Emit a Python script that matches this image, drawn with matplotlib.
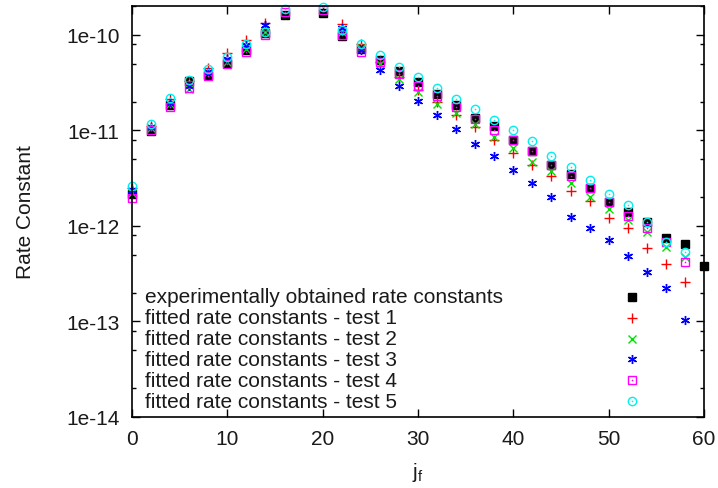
import numpy as np
import matplotlib
matplotlib.use("Agg")
import matplotlib.pyplot as plt
from matplotlib.ticker import FixedLocator, FixedFormatter, LogLocator, NullFormatter

plt.rcParams['font.family'] = ['Liberation Sans', 'DejaVu Sans']
plt.rcParams['mathtext.fontset'] = 'custom'
plt.rcParams['mathtext.rm'] = 'Liberation Sans'
plt.rcParams['mathtext.it'] = 'Liberation Sans:italic'

nan = np.nan

# final rotational state j_f (j_f = 18 lies above the plotted range)
jf_exp = [0, 2, 4, 6, 8, 10, 12, 14, 16, 20, 22, 24, 26, 28, 30, 32, 34, 36,
          38, 40, 42, 44, 46, 48, 50, 52, 54, 56, 58, 60]
jf_fit = jf_exp[:-1]

k_exp = [2.16e-12, 9.9e-12, 1.85e-11, 3.32e-11, 3.81e-11, 5.09e-11, 6.85e-11,
         1.04e-10, 1.62e-10, 1.67e-10, 9.6e-11, 7.13e-11, 5.51e-11, 4.13e-11,
         3.20e-11, 2.41e-11, 1.85e-11, 1.36e-11, 1.11e-11, 7.96e-12, 6.05e-12,
         4.38e-12, 3.50e-12, 2.48e-12, 1.78e-12, 1.41e-12, 1.11e-12, 7.43e-13,
         6.48e-13, 3.84e-13]

k_test1 = [2.50e-12, 1.11e-11, 2.11e-11, 3.27e-11, 4.48e-11, 6.37e-11, 8.71e-11,
           1.34e-10, nan, nan, 1.30e-10, 8.05e-11, 5.18e-11, 3.61e-11, 2.62e-11,
           2.00e-11, 1.43e-11, 1.08e-11, 7.96e-12, 5.81e-12, 4.35e-12, 3.36e-12,
           2.29e-12, 1.84e-12, 1.20e-12, 9.53e-13, 5.84e-13, 4.00e-13, 2.57e-13]

k_test2 = [2.22e-12, 1.06e-11, 1.89e-11, 2.72e-11, 4.07e-11, 5.21e-11, 7.13e-11,
           1.07e-10, nan, nan, 1.07e-10, 7.26e-11, 4.97e-11, 3.46e-11, 2.53e-11,
           1.89e-11, 1.51e-11, 1.17e-11, 8.49e-12, 6.52e-12, 4.71e-12, 3.71e-12,
           2.80e-12, 2.00e-12, 1.51e-12, 1.14e-12, 8.59e-13, 5.98e-13, 4.73e-13]

k_test3 = [2.38e-12, 1.09e-11, 1.93e-11, 2.90e-11, 4.10e-11, 5.61e-11, 7.73e-11,
           1.27e-10, nan, nan, 1.17e-10, 6.85e-11, 4.33e-11, 2.94e-11, 2.04e-11,
           1.43e-11, 1.04e-11, 7.22e-12, 5.37e-12, 3.86e-12, 2.80e-12, 2.00e-12,
           1.25e-12, 9.46e-13, 7.13e-13, 4.82e-13, 3.32e-13, 2.23e-13, 1.04e-13]

k_test4 = [1.96e-12, 1.02e-11, 1.77e-11, 2.79e-11, 3.66e-11, 4.97e-11, 6.68e-11,
           9.84e-11, 1.75e-10, 1.80e-10, 1.00e-10, 6.68e-11, 5.25e-11, 3.91e-11,
           2.92e-11, 2.26e-11, 1.75e-11, 1.32e-11, 1.01e-11, 7.96e-12, 6.05e-12,
           4.35e-12, 3.31e-12, 2.48e-12, 1.77e-12, 1.28e-12, 9.46e-13, 6.75e-13,
           4.23e-13]

k_test5 = [2.62e-12, 1.17e-11, 2.17e-11, 3.38e-11, 4.41e-11, 5.81e-11, 8.05e-11,
           1.07e-10, 1.87e-10, 1.93e-10, 1.11e-10, 8.05e-11, 6.07e-11, 4.59e-11,
           3.61e-11, 2.77e-11, 2.14e-11, 1.68e-11, 1.29e-11, 1.02e-11, 7.82e-12,
           5.45e-12, 4.12e-12, 3.05e-12, 2.16e-12, 1.66e-12, 1.11e-12, 6.75e-13,
           5.31e-13]

labels = ["experimentally obtained rate constants",
          "fitted rate constants - test 1",
          "fitted rate constants - test 2",
          "fitted rate constants - test 3",
          "fitted rate constants - test 4",
          "fitted rate constants - test 5"]

y_ticks = [1e-14, 1e-13, 1e-12, 1e-11, 1e-10]
y_tick_labels = ["1e-14", "1e-13", "1e-12", "1e-11", "1e-10"]
x_ticks = [0, 10, 20, 30, 40, 50, 60]

FS = 15

# point styles in the classic terminal look: filled square, +, x, *, open square, open circle
styles = [
    dict(marker='s', color='#000000', ms=5.4, mfc='#000000', mew=1.0, dot=False),
    dict(marker='+', color='#ff0000', ms=7.0, mfc='none', mew=1.0, dot=False),
    dict(marker='x', color='#00e000', ms=5.6, mfc='none', mew=1.0, dot=False),
    dict(marker=(6, 2, 0), color='#0000ff', ms=6.5, mfc='none', mew=1.0, dot=False),
    dict(marker='s', color='#ff00ff', ms=5.4, mfc='none', mew=1.0, dot=True),
    dict(marker='o', color='#00f0f0', ms=6.0, mfc='none', mew=1.0, dot=True),
]

series = [(jf_exp, k_exp), (jf_fit, k_test1), (jf_fit, k_test2),
          (jf_fit, k_test3), (jf_fit, k_test4), (jf_fit, k_test5)]

fig = plt.figure(figsize=(7.18, 4.89), dpi=100)
ax = fig.add_axes([132 / 718, 71 / 489, 572 / 718, 411 / 489])
ax.set_yscale('log')
ax.set_xlim(0, 60)
ax.set_ylim(1e-14, 2e-10)


def draw_points(xs, ys, st, **kw):
    ax.plot(xs, ys, ls='none', marker=st['marker'], color=st['color'],
            ms=st['ms'], mfc=st['mfc'], mew=st['mew'], clip_on=False, **kw)
    if st['dot']:
        ax.plot(xs, ys, ls='none', marker='o', color=st['color'], ms=1.2,
                mew=0, clip_on=False, **kw)


for (xs, ys), st in zip(series, styles):
    draw_points(xs, ys, st)

# key: labels on the left, point samples on the right
row_y = [0.292, 0.241, 0.190, 0.140, 0.089, 0.038]
for lab, st, yy in zip(labels, styles, row_y):
    ax.text(0.022, yy, lab, transform=ax.transAxes, ha='left', va='center',
            fontsize=FS, color='#1a1a1a')
    draw_points([0.874], [yy], st, transform=ax.transAxes)

ax.yaxis.set_major_locator(FixedLocator(y_ticks))
ax.yaxis.set_major_formatter(FixedFormatter(y_tick_labels))
ax.yaxis.set_minor_locator(LogLocator(base=10, subs=[2.0, 5.0, 8.0]))
ax.yaxis.set_minor_formatter(NullFormatter())
ax.set_xticks(x_ticks)

ax.tick_params(which='both', direction='in', top=True, right=True,
               labelsize=FS, labelcolor='#1a1a1a', width=1.0, color='#000000')
ax.tick_params(which='major', length=6, pad=9)
ax.tick_params(which='minor', length=3)
for sp in ax.spines.values():
    sp.set_linewidth(1.2)
    sp.set_color('#000000')

ax.set_ylabel('Rate Constant', fontsize=FS, color='#1a1a1a', labelpad=22)
ax.set_xlabel(r'j$_{\mathrm{f}}$', fontsize=FS, color='#1a1a1a', labelpad=8)

fig.savefig('out.png', dpi=100)
